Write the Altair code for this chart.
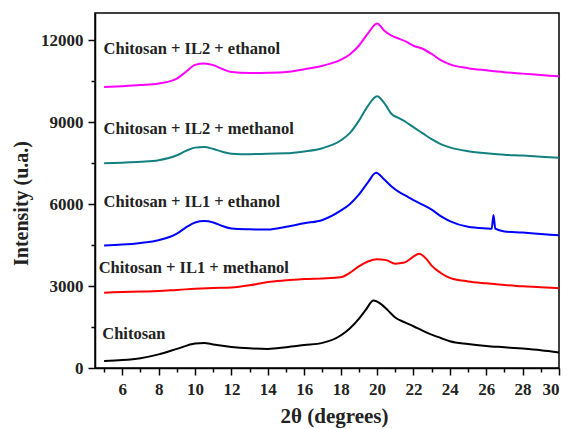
import altair as alt
import pandas as pd

# ---- data ----
chitosan_x = [5, 6, 7, 8, 9, 10, 10.5, 11, 12, 13, 14, 15, 16, 17, 18, 18.5, 19, 19.4, 19.8, 20.2, 20.6, 21, 21.5, 22, 22.5, 23, 23.5, 24, 25, 26, 27, 28, 29, 30]
chitosan_y = [260, 290, 360, 500, 700, 900, 920, 860, 770, 720, 700, 760, 840, 920, 1190, 1450, 1800, 2150, 2470, 2350, 2110, 1850, 1680, 1530, 1370, 1220, 1100, 980, 880, 810, 760, 710, 650, 570]

il1_meoh_x = [5, 6, 7, 8, 9, 10, 11, 12, 13, 14, 15, 16, 17, 18, 18.5, 19, 19.5, 20, 20.5, 21, 21.5, 22, 22.3, 22.7, 23, 23.5, 24, 25, 26, 27, 28, 29, 30]
il1_meoh_y = [2760, 2780, 2800, 2820, 2860, 2900, 2930, 2950, 3030, 3150, 3210, 3260, 3280, 3320, 3480, 3720, 3900, 3980, 3950, 3820, 3860, 4080, 4180, 4000, 3750, 3480, 3300, 3170, 3100, 3040, 2990, 2960, 2920]

il1_etoh_x = [5, 6, 7, 8, 9, 9.5, 10, 10.5, 11, 11.5, 12, 13, 14, 15, 16, 17, 18, 18.5, 19, 19.5, 19.95, 20.4, 20.8, 21.2, 21.6, 22, 22.5, 23, 23.5, 24, 25, 26, 26.3, 26.4, 26.5, 27, 28, 29, 30]
il1_etoh_y = [4490, 4520, 4580, 4680, 4920, 5150, 5330, 5380, 5330, 5200, 5110, 5080, 5070, 5170, 5300, 5420, 5760, 6000, 6350, 6800, 7150, 6900, 6650, 6450, 6300, 6150, 5980, 5800, 5560, 5380, 5170, 5110, 5100, 5600, 5100, 5000, 4960, 4910, 4860]

il2_meoh_x = [5, 6, 7, 8, 9, 9.5, 10, 10.5, 11, 11.5, 12, 13, 14, 15, 16, 17, 18, 18.5, 19, 19.5, 20, 20.4, 20.8, 21.2, 21.6, 22, 22.5, 23, 23.5, 24, 25, 26, 27, 28, 29, 30]
il2_meoh_y = [7500, 7520, 7550, 7610, 7790, 7950, 8070, 8090, 8020, 7920, 7850, 7830, 7850, 7860, 7930, 8050, 8330, 8600, 9050, 9600, 9950, 9700, 9300, 9150, 9000, 8820, 8600, 8380, 8200, 8080, 7940, 7860, 7810, 7780, 7740, 7700]

il2_etoh_x = [5, 6, 7, 8, 9, 9.5, 10, 10.5, 11, 11.5, 12, 13, 14, 15, 16, 17, 18, 18.5, 19, 19.5, 20, 20.4, 20.8, 21.2, 21.6, 22, 22.5, 23, 23.5, 24, 25, 26, 27, 28, 29, 30]
il2_etoh_y = [10290, 10320, 10360, 10420, 10600, 10850, 11100, 11150, 11090, 10950, 10840, 10800, 10810, 10840, 10940, 11070, 11280, 11480, 11800, 12250, 12620, 12350, 12170, 12060, 11950, 11800, 11690, 11500, 11270, 11120, 10980, 10900, 10830, 10780, 10730, 10680]

series_names = ["Chitosan", "Chitosan + IL1 + methanol", "Chitosan + IL1 + ethanol",
                "Chitosan + IL2 + methanol", "Chitosan + IL2 + ethanol"]
series_colors = ["#000000", "#FF0000", "#0000FF", "#138080", "#FF00FF"]

label_x = [4.9, 4.7, 4.97, 4.97, 4.97]
label_y = [1234, 3670, 6063, 8743, 11674]

x_major = [6, 8, 10, 12, 14, 16, 18, 20, 22, 24, 26, 28, 30]
x_minor = [5, 7, 9, 11, 13, 15, 17, 19, 21, 23, 25, 27, 29]
y_major = [0, 3000, 6000, 9000, 12000]
y_minor = [1500, 4500, 7500, 10500]

# ---- build table ----
xs = [chitosan_x, il1_meoh_x, il1_etoh_x, il2_meoh_x, il2_etoh_x]
ys = [chitosan_y, il1_meoh_y, il1_etoh_y, il2_meoh_y, il2_etoh_y]
rows = []
for name, xx, yy in zip(series_names, xs, ys):
    for i, (a, b) in enumerate(zip(xx, yy)):
        rows.append({"series": name, "x": a, "y": b, "order": i})
df = pd.DataFrame(rows)
labels = pd.DataFrame({"text": series_names, "x": label_x, "y": label_y})

FONT = "Liberation Serif"
xscale = alt.Scale(domain=[4.5, 30], nice=False, zero=False)
yscale = alt.Scale(domain=[0, 13000], nice=False)

lines = alt.Chart(df).mark_line(strokeWidth=2, interpolate="monotone").encode(
    x=alt.X("x:Q", scale=xscale,
            axis=alt.Axis(values=x_major, title="2θ (degrees)", grid=False, tickSize=7,
                          labelFontSize=17, labelFont=FONT, labelFontWeight="bold",
                          titleFont=FONT, titleFontSize=21, titleFontWeight="bold",
                          titleX=239, titleY=48, titleBaseline="middle", titleAlign="center",
                          labelPadding=6, orient="bottom", labelFlush=True)),
    y=alt.Y("y:Q", scale=yscale,
            axis=alt.Axis(values=y_major, format="d", title="Intensity (u.a.)", grid=False, tickSize=7,
                          labelFontSize=17, labelFont=FONT, labelFontWeight="bold",
                          titleFont=FONT, titleFontSize=20, titleFontWeight="bold",
                          titleX=-74, titleY=190, titleBaseline="middle", titleAlign="center",
                          labelPadding=5, orient="left")),
    color=alt.Color("series:N", scale=alt.Scale(domain=series_names, range=series_colors), legend=None),
    order="order:Q",
)

minor = alt.Chart(df).mark_point(opacity=0).encode(
    x=alt.X("x:Q", scale=xscale,
            axis=alt.Axis(values=x_minor, labels=False, domain=False, grid=False, tickSize=4,
                          title=None, orient="bottom")),
    y=alt.Y("y:Q", scale=yscale,
            axis=alt.Axis(values=y_minor, labels=False, domain=False, grid=False, tickSize=4,
                          title=None, orient="left")),
)

text = alt.Chart(labels).mark_text(align="left", baseline="middle", font=FONT,
                                   fontSize=16.5, fontWeight="bold", color="#222222").encode(
    x=alt.X("x:Q", scale=xscale, axis=None),
    y=alt.Y("y:Q", scale=yscale, axis=None),
    text="text:N",
)

chart = alt.layer(lines, minor, text).resolve_axis(x="independent", y="independent").properties(
    width=464, height=355,
    autosize=alt.AutoSizeParams(type="none"),
    padding={"left": 87, "top": 5, "right": 2, "bottom": 62},
).configure_axis(
    domainColor="#000000", tickColor="#000000", domainWidth=1.5, tickWidth=1.5,
    labelColor="#222222", titleColor="#222222",
).configure_view(stroke="#000000", strokeWidth=1.5)

chart.save("out.html", embed_options={"renderer": "svg", "actions": False})
